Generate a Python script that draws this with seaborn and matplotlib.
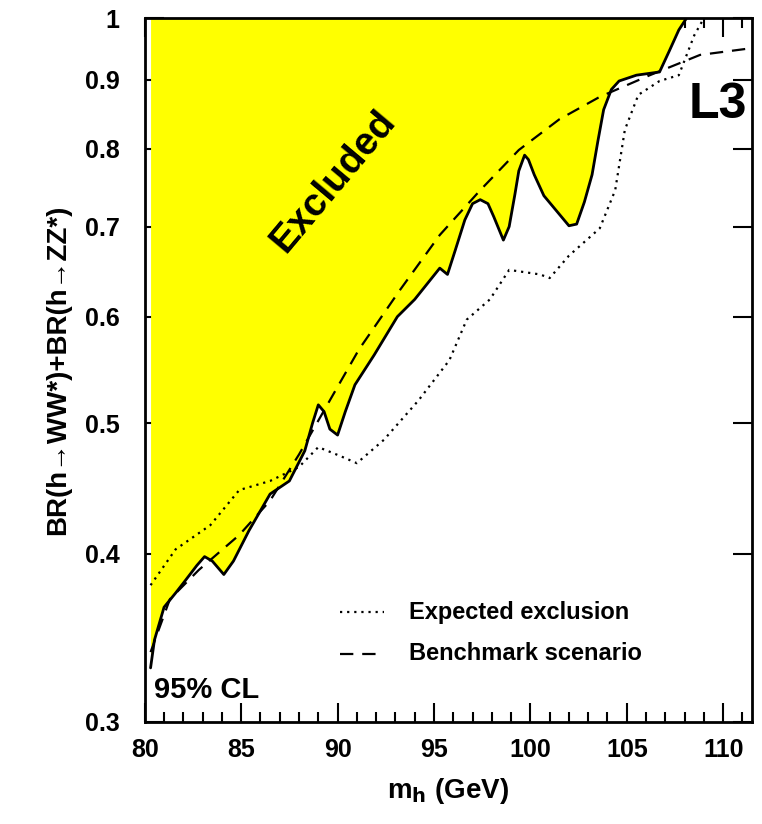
import matplotlib
matplotlib.use("Agg")
import matplotlib.pyplot as plt
import seaborn as sns
from matplotlib.ticker import FixedLocator, NullLocator, MultipleLocator

sns.set_style("ticks")
plt.rcParams['font.family'] = ['Liberation Sans', 'DejaVu Sans']
plt.rcParams['font.weight'] = 'bold'
plt.rcParams['text.color'] = 'black'
plt.rcParams['axes.labelcolor'] = 'black'
plt.rcParams['xtick.color'] = 'black'
plt.rcParams['ytick.color'] = 'black'
plt.rcParams['axes.edgecolor'] = 'black'

obs_x = [80.3, 80.5, 81.0, 81.6, 82.1, 82.7, 83.1, 83.5, 84.1, 84.6, 85.4, 86.5, 87.5, 88.3, 88.7, 89.0, 89.3,
         89.6, 90.0, 90.4, 90.9, 91.9, 93.1, 94.0, 95.3, 95.7, 96.1, 96.6, 97.0, 97.4, 97.8, 98.1, 98.6, 98.9,
         99.2, 99.4, 99.7, 99.9, 100.2, 100.7, 101.5, 102.0, 102.4, 102.8, 103.2, 103.5, 103.8, 104.2, 104.6,
         105.5, 106.7, 107.2, 107.7, 108.1]
obs_y = [0.329, 0.345, 0.365, 0.374, 0.382, 0.392, 0.398, 0.395, 0.386, 0.395, 0.416, 0.443, 0.453, 0.477,
         0.500, 0.516, 0.510, 0.495, 0.490, 0.510, 0.534, 0.562, 0.600, 0.618, 0.652, 0.645, 0.672, 0.708,
         0.728, 0.733, 0.728, 0.712, 0.684, 0.700, 0.740, 0.770, 0.791, 0.785, 0.765, 0.738, 0.715, 0.701,
         0.703, 0.730, 0.765, 0.810, 0.855, 0.885, 0.898, 0.907, 0.912, 0.945, 0.980, 1.0]

exp_x = [80.3, 81.6, 83.4, 84.9, 86.5, 88.0, 89.0, 90.1, 91.0, 92.4, 94.2, 95.8, 96.7, 97.9, 98.9,
         100.5, 101.0, 102.0, 103.6, 104.4, 104.9, 105.6, 106.7, 107.7, 108.5, 109.0]
exp_y = [0.379, 0.403, 0.420, 0.446, 0.453, 0.464, 0.480, 0.473, 0.467, 0.486, 0.520, 0.557, 0.597, 0.618, 0.650,
         0.645, 0.641, 0.666, 0.698, 0.745, 0.826, 0.877, 0.898, 0.907, 0.971, 1.0]

bm_x = [80.3, 81.3, 82.8, 84.9, 86.5, 88.0, 89.6, 91.1, 93.2, 95.3, 97.4, 99.4, 101.5, 103.6, 106.2, 108.8, 111.5]
bm_y = [0.338, 0.370, 0.389, 0.413, 0.438, 0.474, 0.520, 0.567, 0.627, 0.690, 0.745, 0.798, 0.841, 0.874, 0.907, 0.939, 0.950]

yticks = [0.3, 0.4, 0.5, 0.6, 0.7, 0.8, 0.9, 1.0]
ytick_labels = ["0.3", "0.4", "0.5", "0.6", "0.7", "0.8", "0.9", "1"]
xticks = [80, 85, 90, 95, 100, 105, 110]

fig = plt.figure(figsize=(7.62, 8.24), dpi=100)
ax = fig.add_axes([0.190, 0.124, 0.797, 0.854])
ax.set_yscale('log')

ax.fill_between(obs_x, obs_y, 1.0, color='#ffff00', linewidth=0)
sns.lineplot(x=obs_x, y=obs_y, ax=ax, color='black', lw=2, sort=False)
sns.lineplot(x=exp_x, y=exp_y, ax=ax, color='black', lw=1.6, linestyle=(0, (1, 2.2)), sort=False)
sns.lineplot(x=bm_x, y=bm_y, ax=ax, color='black', lw=1.6, linestyle=(0, (6, 4)), sort=False)

ax.set_xlim(80, 111.5)
ax.set_ylim(0.3, 1.0)
ax.yaxis.set_major_locator(FixedLocator(yticks))
ax.set_yticklabels(ytick_labels)
ax.yaxis.set_minor_locator(NullLocator())
ax.xaxis.set_major_locator(FixedLocator(xticks))
ax.xaxis.set_minor_locator(MultipleLocator(1))
ax.tick_params(which='both', direction='in', top=True, right=True, labelsize=18, width=1.5)
ax.tick_params(which='major', length=14)
ax.tick_params(which='minor', length=7)
ax.tick_params(axis='y', pad=18)
ax.tick_params(axis='x', pad=12)
for lab in ax.get_xticklabels() + ax.get_yticklabels():
    lab.set_fontweight('bold')
for s in ax.spines.values():
    s.set_linewidth(2)

ax.set_xlabel(r"m$_\mathbf{h}$ (GeV)", fontsize=20, fontweight='bold', labelpad=10)
ax.set_ylabel("BR(h→WW*)+BR(h→ZZ*)", fontsize=20, fontweight='bold', labelpad=10)

ax.text(80.5, 0.317, "95% CL", fontsize=21, fontweight='bold', va='center')
ax.text(109.7, 0.862, "L3", fontsize=36, fontweight='bold', ha='center', va='center')
ax.text(89.8, 0.757, "Excluded", fontsize=28, fontweight='bold', rotation=50, ha='center', va='center')

# legend
ax.plot([90.1, 92.4], [0.362, 0.362], color='black', lw=1.6, linestyle=(0, (1, 2.2)))
ax.plot([90.1, 92.4], [0.337, 0.337], color='black', lw=1.6, linestyle=(0, (6, 4)))
ax.text(93.7, 0.362, "Expected exclusion", fontsize=17, fontweight='bold', va='center')
ax.text(93.7, 0.337, "Benchmark scenario", fontsize=17, fontweight='bold', va='center')

fig.savefig("out.png", dpi=100)
